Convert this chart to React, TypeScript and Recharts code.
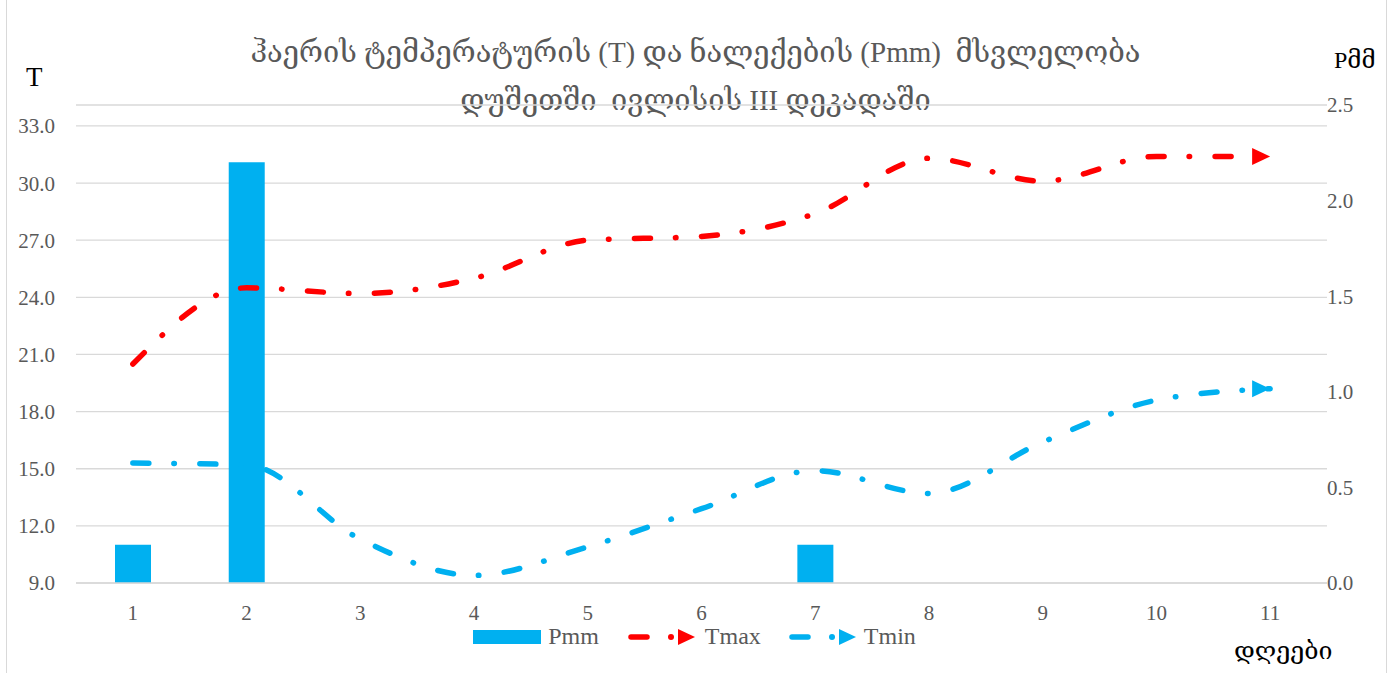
import React from "react";
import {
  ComposedChart,
  Bar,
  Line,
  XAxis,
  YAxis,
  CartesianGrid,
  Legend
} from "recharts";

const days = [1, 2, 3, 4, 5, 6, 7, 8, 9, 10, 11];
const pmm = [0.2, 2.2, 0, 0, 0, 0, 0.2, 0, 0, 0, 0];
const tmax = [20.5, 24.5, 24.2, 25.0, 27.0, 27.2, 28.4, 31.3, 30.1, 31.4, 31.4];
const tmin = [15.3, 15.2, 11.3, 9.4, 10.9, 12.9, 14.9, 13.7, 16.4, 18.6, 19.2];
const leftTicks = [9, 12, 15, 18, 21, 24, 27, 30, 33];
const rightTicks = [0, 0.5, 1, 1.5, 2, 2.5];

const data = days.map((d, i) => ({
  day: d,
  Pmm: pmm[i],
  Tmax: tmax[i],
  Tmin: tmin[i]
}));

const gray = "#595959";
const blue = "#00B0F0";
const red = "#FF0000";
const serif = "'Liberation Serif', 'DejaVu Serif', serif";
const dash = "16 25 0.5 25.5";

const arrowDot = (color: string) => (props: any) => {
  const { cx, cy, index } = props;
  if (index !== days.length - 1) return <g key={"d" + index} />;
  return (
    <polygon
      key={"d" + index}
      points={`${cx - 18},${cy - 8.5} ${cx},${cy} ${cx - 18},${cy + 8.5}`}
      fill={color}
    />
  );
};

const LineSample = ({ color }: { color: string }) => (
  <svg width={68} height={20} style={{ display: "block" }}>
    <line x1={4} y1={10} x2={20} y2={10} stroke={color} strokeWidth={5.5} strokeLinecap="round" />
    <circle cx={44} cy={10} r={3} fill={color} />
    <polygon points="51,2 68,10 51,18" fill={color} />
  </svg>
);

const renderLegend = () => (
  <div
    style={{
      display: "flex",
      justifyContent: "center",
      alignItems: "center",
      fontFamily: serif,
      fontSize: 24,
      color: gray,
      paddingRight: 2
    }}
  >
    <div style={{ width: 68, height: 14, background: blue }} />
    <span style={{ marginLeft: 7, marginRight: 28 }}>Pmm</span>
    <LineSample color={red} />
    <span style={{ marginLeft: 10, marginRight: 27 }}>Tmax</span>
    <LineSample color={blue} />
    <span style={{ marginLeft: 8 }}>Tmin</span>
  </div>
);

export default function App() {
  return (
    <div style={{ position: "absolute", left: 0, top: 0, width: 1391, height: 673, overflow: "hidden", background: "#fff" }}>
      <div
        style={{
          position: "absolute",
          left: 6,
          top: -2,
          width: 1381,
          height: 700,
          border: "1px solid #d9d9d9",
          boxSizing: "border-box"
        }}
      />
      <div
        style={{
          position: "absolute",
          left: 0,
          width: 1391,
          top: 28,
          textAlign: "center",
          fontFamily: serif,
          fontSize: 29,
          lineHeight: "48px",
          color: gray
        }}
      >
        <div>ჰაერის ტემპერატურის (T) და ნალექების (Pmm)&nbsp; მსვლელობა</div>
        <div>დუშეთში&nbsp; ივლისის III დეკადაში</div>
      </div>
      <div style={{ position: "absolute", left: 26, top: 62, fontFamily: serif, fontSize: 27, color: "#000" }}>T</div>
      <div style={{ position: "absolute", left: 1334, top: 46, fontFamily: serif, fontSize: 24, color: "#000" }}>Pმმ</div>
      <div style={{ position: "absolute", left: 1234, top: 636, fontFamily: serif, fontSize: 25, color: "#000" }}>დღეები</div>
      <div style={{ position: "absolute", left: 0, top: 0 }}>
        <ComposedChart
          width={1391}
          height={673}
          data={data}
          margin={{ top: 105, right: 10, bottom: 33, left: 0 }}
        >
          <CartesianGrid yAxisId="left" vertical={false} stroke="#d9d9d9" strokeWidth={1.3} />
          <XAxis
            dataKey="day"
            axisLine={{ stroke: "#d9d9d9", strokeWidth: 1.3 }}
            tickLine={false}
            tickSize={0}
            tickMargin={22}
            height={30}
            tick={{ fill: gray, fontSize: 21, fontFamily: serif }}
          />
          <YAxis
            yAxisId="left"
            orientation="left"
            width={76}
            domain={[9, 34.1]}
            ticks={leftTicks}
            allowDataOverflow
            axisLine={false}
            tickLine={false}
            tickMargin={15}
            tickFormatter={(v: number) => v.toFixed(1)}
            tick={{ fill: gray, fontSize: 21, fontFamily: serif }}
          />
          <YAxis
            yAxisId="right"
            orientation="right"
            width={54}
            domain={[0, 2.5]}
            ticks={rightTicks}
            allowDataOverflow
            axisLine={false}
            tickLine={false}
            tickSize={0}
            tickMargin={0}
            tickFormatter={(v: number) => v.toFixed(1)}
            tick={{ fill: gray, fontSize: 21, fontFamily: serif }}
          />
          <Legend
            content={renderLegend}
            wrapperStyle={{ position: "absolute", top: 623, left: 0, width: 1391 }}
          />
          <Bar yAxisId="right" dataKey="Pmm" fill={blue} barSize={36} isAnimationActive={false} />
          <Line
            yAxisId="left"
            type="monotone"
            dataKey="Tmax"
            stroke={red}
            strokeWidth={5.5}
            strokeDasharray={dash}
            strokeLinecap="round"
            dot={arrowDot(red)}
            activeDot={false}
            isAnimationActive={false}
          />
          <Line
            yAxisId="left"
            type="monotone"
            dataKey="Tmin"
            stroke={blue}
            strokeWidth={5.5}
            strokeDasharray={dash}
            strokeLinecap="round"
            dot={arrowDot(blue)}
            activeDot={false}
            isAnimationActive={false}
          />
        </ComposedChart>
      </div>
    </div>
  );
}
